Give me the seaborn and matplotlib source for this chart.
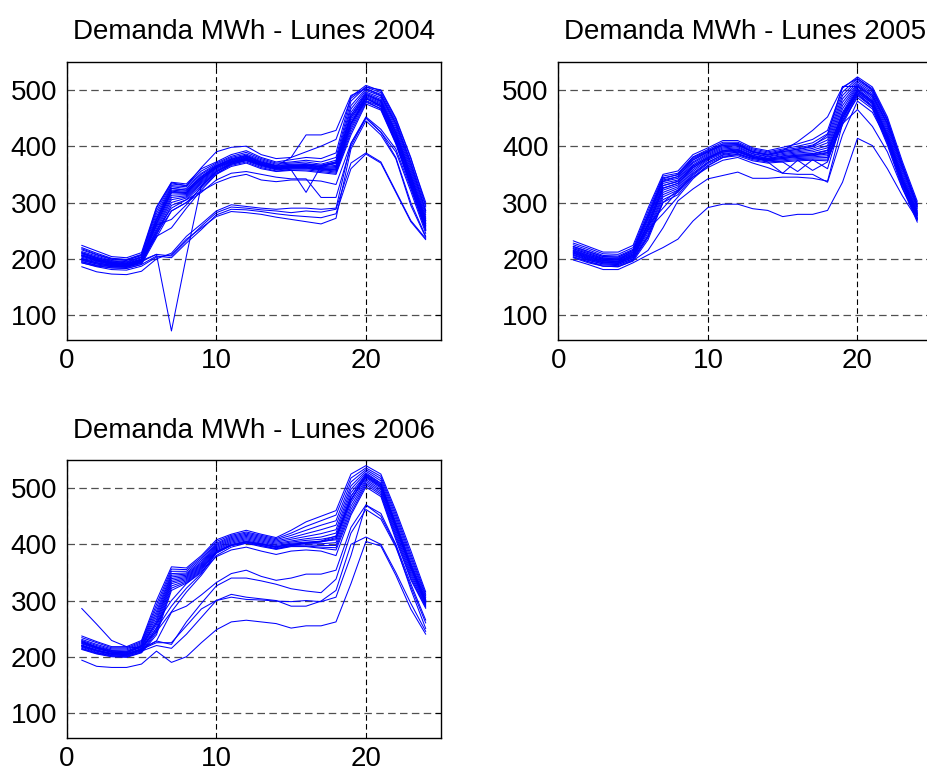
import matplotlib
matplotlib.use("Agg")
import matplotlib.pyplot as plt
import pandas as pd
import seaborn as sns

hours = list(range(1, 25))

# ---------------- Lunes 2004 ----------------
w04_01 = [224,214,204,202,211,292,336,333,360,372,385,392,380,372,376,380,378,388,488,508,498,448,378,300]
w04_02 = [220,210,201,199,208,285,333,330,356,370,382,389,378,370,372,375,372,380,480,505,495,444,372,292]
w04_03 = [216,207,199,197,206,280,330,328,352,368,380,386,376,368,370,372,368,375,472,502,492,440,366,286]
w04_04 = [213,205,197,195,204,275,328,325,350,366,378,384,374,366,368,369,366,372,466,499,489,436,362,282]
w04_05 = [211,203,195,193,202,271,325,322,347,365,376,382,372,365,367,367,364,369,460,496,486,432,358,278]
w04_06 = [209,201,194,192,200,268,322,320,345,364,375,381,371,364,366,366,363,366,455,494,483,428,354,274]
w04_07 = [207,199,193,191,199,265,320,318,343,363,374,380,370,363,365,365,362,364,450,492,481,425,350,271]
w04_08 = [205,198,192,190,198,262,317,316,341,362,373,379,369,362,364,364,361,362,446,490,479,422,346,268]
w04_09 = [203,196,191,189,197,258,313,314,339,361,372,378,368,361,363,363,360,360,442,488,477,419,343,265]
w04_10 = [201,195,190,188,196,254,309,312,337,359,371,377,367,360,362,362,359,358,438,486,475,416,340,262]
w04_11 = [199,193,189,187,195,250,305,310,335,357,370,376,366,359,361,361,358,356,434,484,473,413,337,259]
w04_12 = [197,191,187,186,194,246,300,308,333,355,368,374,364,358,360,360,357,354,430,481,470,410,334,256]
w04_13 = [195,189,186,185,192,242,295,305,330,352,366,372,362,356,358,358,355,352,425,478,467,407,331,253]
w04_14 = [193,187,184,183,190,238,285,300,326,350,364,370,360,355,357,356,353,350,420,475,464,404,328,250]
w04_15 = [211,202,196,194,203,260,270,296,328,354,370,377,368,362,365,368,366,372,452,485,470,410,335,258]
w04_16 = [206,197,191,189,198,240,255,290,322,350,368,375,366,360,363,366,364,370,440,480,466,406,330,252]
w04_17 = [218,208,200,198,207,290,335,330,362,390,398,400,385,378,380,390,400,412,485,505,500,450,380,295]
w04_18 = [210,200,193,191,199,270,325,322,345,365,377,383,372,365,380,420,420,428,490,502,490,440,370,285]
w04_19 = [207,199,193,191,199,262,318,318,342,362,372,378,368,362,358,318,365,370,455,492,480,424,348,268]
w04_20 = [200,193,188,186,195,250,290,305,320,335,345,350,340,337,340,340,338,332,405,452,430,395,325,250]
w04_21 = [198,191,186,185,193,245,285,300,318,340,352,355,350,345,342,342,309,309,400,450,425,390,320,245]
w04_22 = [200,193,188,186,195,208,205,232,258,282,292,290,287,285,282,285,283,288,370,388,372,320,268,236]
w04_23 = [195,188,184,183,190,205,202,228,252,278,288,287,284,280,277,275,273,280,360,386,370,318,266,234]
w04_24 = [186,177,173,172,178,200,210,240,262,285,296,293,290,288,290,290,288,290,405,450,425,380,300,240]
w04_25 = [193,186,181,180,187,203,207,235,255,275,284,282,279,274,270,266,262,272,395,445,420,378,295,238]
w04_26 = [205,197,190,188,197,208,72,205,330,355,368,375,366,360,362,362,360,358,440,485,472,418,342,262]

# ---------------- Lunes 2005 ----------------
w05_01 = [232,222,212,212,224,290,350,356,385,397,410,410,397,392,398,404,412,428,503,523,505,452,373,302]
w05_02 = [228,219,209,208,220,285,347,352,381,394,407,407,395,390,395,400,406,422,496,520,502,448,368,298]
w05_03 = [225,216,206,205,217,280,344,349,378,391,404,405,393,388,393,397,402,416,490,517,499,444,364,295]
w05_04 = [222,213,204,203,215,275,340,346,375,389,401,403,391,386,391,394,399,411,484,514,496,440,360,292]
w05_05 = [220,211,202,201,213,271,337,343,372,387,399,401,389,384,389,392,396,406,478,511,493,436,356,289]
w05_06 = [218,209,200,199,211,267,334,340,370,385,397,399,387,382,387,390,393,401,472,509,490,432,352,286]
w05_07 = [216,207,199,198,209,263,330,337,367,383,395,397,386,381,385,388,390,397,466,507,487,428,348,284]
w05_08 = [214,205,197,196,207,259,326,334,364,381,393,395,384,379,383,386,387,393,460,505,484,424,345,282]
w05_09 = [212,203,196,195,206,255,322,331,361,379,391,393,383,378,382,384,385,389,455,502,481,420,342,280]
w05_10 = [210,201,194,193,204,250,318,328,358,377,389,391,381,377,380,382,383,386,450,499,478,416,338,277]
w05_11 = [208,199,193,192,202,246,314,325,355,375,387,389,380,376,378,380,381,383,446,496,475,412,335,274]
w05_12 = [206,197,191,190,200,242,310,322,352,372,384,387,378,374,376,378,379,380,442,493,472,408,332,271]
w05_13 = [204,195,189,188,198,238,305,318,348,369,382,385,376,372,374,376,377,377,438,490,469,405,329,268]
w05_14 = [202,193,187,186,196,234,300,314,345,366,380,383,374,370,372,374,375,374,444,486,466,402,326,265]
w05_15 = [213,204,197,196,207,260,290,320,350,371,385,390,381,377,380,384,386,392,458,500,480,420,342,280]
w05_16 = [210,200,193,192,203,252,280,310,342,365,380,386,378,375,378,382,384,388,452,495,476,416,338,276]
w05_17 = [198,190,181,181,193,207,220,235,267,291,297,297,289,286,275,279,279,286,336,414,401,360,312,270]
w05_18 = [203,195,187,186,197,215,255,303,324,342,348,354,343,343,345,345,343,338,440,465,435,390,325,272]
w05_19 = [207,198,191,190,200,240,300,322,345,362,375,380,370,362,352,350,350,336,420,480,460,410,335,270]
w05_20 = [215,206,199,198,209,262,330,338,365,380,392,394,382,372,352,375,357,372,455,498,478,418,340,278]
w05_21 = [211,202,195,194,205,255,325,334,362,378,390,392,380,375,372,355,376,360,450,492,470,412,336,272]
w05_22 = [222,213,204,203,215,278,342,350,380,392,404,404,390,385,392,408,428,452,505,520,500,446,368,296]
w05_23 = [218,209,201,200,212,272,338,346,376,390,402,402,390,384,390,395,400,420,506,506,490,440,362,292]

# ---------------- Lunes 2006 ----------------
w06_01 = [237,227,218,218,229,300,360,358,380,408,418,425,418,412,425,440,450,460,525,540,525,460,389,315]
w06_02 = [234,225,216,216,227,293,356,355,377,405,416,422,416,410,420,432,442,452,518,536,521,455,383,311]
w06_03 = [231,222,214,214,225,287,352,352,374,402,414,420,414,408,416,425,434,442,511,533,517,450,378,308]
w06_04 = [229,220,212,212,223,281,348,349,371,400,412,418,412,406,412,419,426,434,504,530,513,445,373,305]
w06_05 = [227,218,211,210,221,276,345,347,368,398,410,416,410,404,409,414,419,426,498,527,509,440,368,302]
w06_06 = [225,216,209,208,219,271,342,345,366,396,408,414,408,402,406,410,413,420,492,524,506,436,364,300]
w06_07 = [223,214,208,207,217,266,339,343,364,394,406,412,406,400,404,407,409,414,486,521,503,432,360,298]
w06_08 = [221,212,206,205,215,262,336,341,362,392,404,410,404,398,402,404,405,408,480,518,500,428,356,296]
w06_09 = [219,210,204,203,213,257,333,339,360,390,402,408,402,396,400,401,401,403,474,515,497,424,352,294]
w06_10 = [217,208,203,202,211,252,330,337,358,388,400,406,400,394,398,399,398,398,468,512,494,420,348,292]
w06_11 = [215,207,202,201,209,247,326,335,356,387,399,404,398,392,397,397,395,394,462,509,491,416,344,290]
w06_12 = [214,206,201,200,208,243,322,333,354,386,398,402,396,391,396,396,393,390,456,506,488,412,340,288]
w06_13 = [213,205,200,199,207,239,318,331,352,378,390,395,388,382,388,390,388,380,452,502,485,408,337,286]
w06_14 = [226,217,210,209,220,260,300,330,350,385,398,404,400,395,400,402,404,410,478,522,505,432,360,298]
w06_15 = [220,211,205,204,214,250,290,322,348,384,398,405,401,396,400,403,406,415,485,525,508,436,364,300]
w06_16 = [224,215,208,207,218,245,280,315,345,380,395,402,398,392,398,402,405,412,480,520,502,430,358,296]
w06_17 = [286,258,229,218,215,228,279,290,310,332,348,354,343,336,340,347,347,354,430,470,455,400,330,265]
w06_18 = [220,212,206,205,212,228,222,262,295,326,340,340,335,329,321,317,314,338,420,462,445,395,325,260]
w06_19 = [218,210,205,204,210,220,215,240,270,300,311,306,303,300,290,290,299,318,400,413,400,350,295,245]
w06_20 = [228,217,208,206,213,225,225,255,285,300,306,302,301,299,298,300,298,306,380,470,450,398,320,250]
w06_21 = [194,183,181,181,187,210,190,200,225,248,262,265,262,259,251,255,255,262,330,405,397,345,285,240]

series_2004 = [w04_01, w04_02, w04_03, w04_04, w04_05, w04_06, w04_07, w04_08, w04_09,
               w04_10, w04_11, w04_12, w04_13, w04_14, w04_15, w04_16, w04_17, w04_18,
               w04_19, w04_20, w04_21, w04_22, w04_23, w04_24, w04_25, w04_26]
series_2005 = [w05_01, w05_02, w05_03, w05_04, w05_05, w05_06, w05_07, w05_08, w05_09,
               w05_10, w05_11, w05_12, w05_13, w05_14, w05_15, w05_16, w05_17, w05_18,
               w05_19, w05_20, w05_21, w05_22, w05_23]
series_2006 = [w06_01, w06_02, w06_03, w06_04, w06_05, w06_06, w06_07, w06_08, w06_09,
               w06_10, w06_11, w06_12, w06_13, w06_14, w06_15, w06_16, w06_17, w06_18,
               w06_19, w06_20, w06_21]

titles = ["Demanda MWh - Lunes 2004", "Demanda MWh - Lunes 2005", "Demanda MWh - Lunes 2006"]
x_ticks = [0, 10, 20]
y_ticks = [100, 200, 300, 400, 500]

sns.set_style("white")
plt.rcParams["font.family"] = ["Liberation Sans", "DejaVu Sans"]
plt.rcParams["text.color"] = "black"

fig = plt.figure(figsize=(9.28, 7.69), dpi=100)
rects = [
    [0.0719, 0.5579, 0.4030, 0.3619],
    [0.6016, 0.5579, 0.4030, 0.3619],
    [0.0719, 0.0407, 0.4030, 0.3611],
]


def draw(ax, curves, title):
    rows = []
    for i, c in enumerate(curves):
        for h, v in zip(hours, c):
            rows.append((i, h, v))
    df = pd.DataFrame(rows, columns=["semana", "hora", "mwh"])
    sns.lineplot(data=df, x="hora", y="mwh", units="semana", estimator=None,
                 color="#0000ff", lw=0.75, ax=ax, legend=False, zorder=3)
    ax.set_xlim(0, 25)
    ax.set_ylim(56, 550)
    ax.set_xticks(x_ticks)
    ax.set_yticks(y_ticks)
    ax.set_xlabel("")
    ax.set_ylabel("")
    ax.set_title(title, fontsize=20, pad=16, color="black")
    ax.tick_params(direction="in", length=4, width=0.8, top=True, right=True,
                   labelsize=20, colors="k")
    ax.tick_params(axis="x", pad=6)
    ax.tick_params(axis="y", pad=7)
    ax.xaxis.grid(True, color="k", linestyle=(0, (5, 3)), linewidth=0.8)
    ax.yaxis.grid(True, color="#505050", linestyle=(0, (6, 3.5)), linewidth=0.9)
    for s in ax.spines.values():
        s.set_color("k")
        s.set_linewidth(1.0)


for rect, curves, title in zip(rects, [series_2004, series_2005, series_2006], titles):
    ax = fig.add_axes(rect)
    draw(ax, curves, title)

fig.savefig("out.png", dpi=100)
